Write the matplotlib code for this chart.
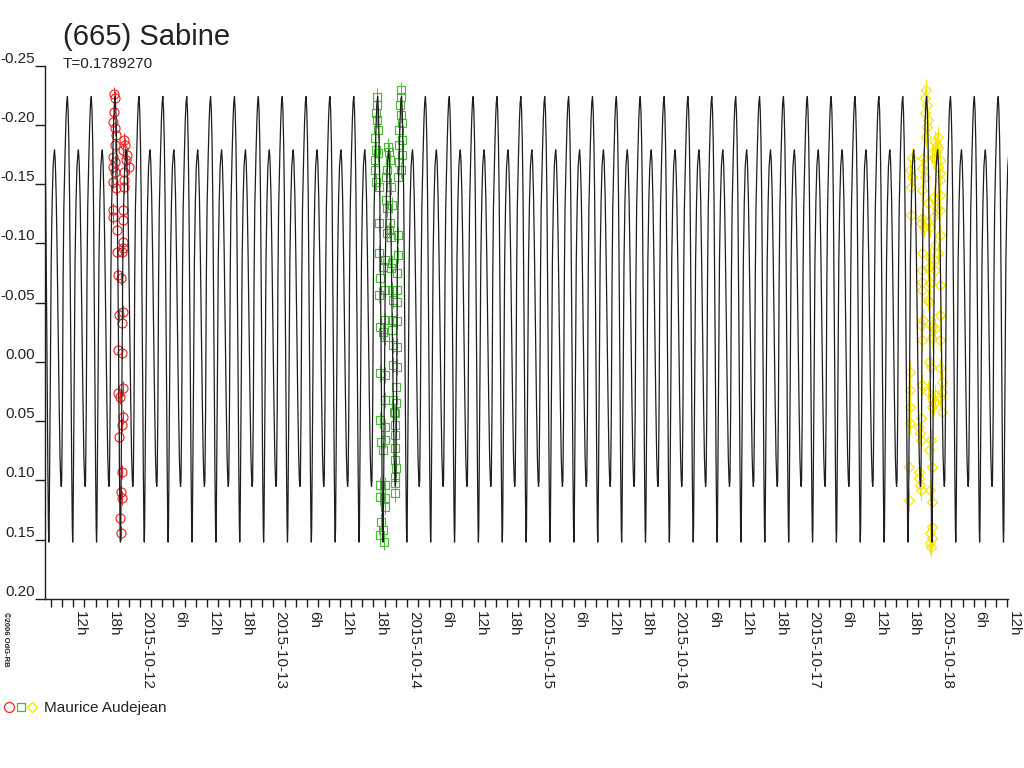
import matplotlib
matplotlib.use("Agg")
import matplotlib.pyplot as plt
import matplotlib.dates as mdates
from matplotlib.lines import Line2D
from matplotlib.legend_handler import HandlerTuple
import numpy as np
import pandas as pd

plt.rcParams['font.family'] = ['Liberation Sans', 'DejaVu Sans']

TITLE = "(665) Sabine"
PERIOD_LABEL = "T=0.1789270"
PERIOD_D = 0.1789270
OBSERVER = "Maurice Audejean"
COPYRIGHT = "\u00a92006 OdG-RB"

EPOCH_MAX = "2015-10-11 23:49"      # time of a primary maximum of the model
X_START = "2015-10-11 06:54"
X_END = "2015-10-18 12:10"

# composite lightcurve shape over one rotation (phase 0 = primary maximum)
PHASE = [0.00, 0.03, 0.06, 0.09, 0.12, 0.15, 0.18, 0.205, 0.22, 0.235, 0.26, 0.29,
         0.32, 0.36, 0.40, 0.44, 0.46, 0.49, 0.53, 0.57, 0.61, 0.65, 0.69, 0.72,
         0.74, 0.76, 0.79, 0.82, 0.85, 0.90, 0.94, 0.97]
SHAPE_MAG = [-0.224, -0.212, -0.185, -0.140, -0.070, 0.010, 0.090, 0.140, 0.152, 0.140, 0.080, 0.000,
             -0.085, -0.135, -0.165, -0.176, -0.179, -0.170, -0.140, -0.090, -0.030, 0.030, 0.080, 0.100,
             0.105, 0.100, 0.040, -0.070, -0.130, -0.175, -0.205, -0.219]

# session 1 (red circles), night of 2015-10-11, UT hours
RED_NIGHT = "2015-10-11"
RED_HOURS = [19.32, 19.50, 19.32, 19.20, 19.50, 19.68, 21.12, 21.30, 19.50, 21.00, 21.60, 19.20,
             19.50, 21.48, 19.20, 22.08, 19.50, 21.12, 19.20, 21.12, 19.68, 21.12, 19.08, 21.00,
             19.08, 21.00, 19.92, 21.00, 21.00, 19.92, 20.70, 20.10, 20.52, 20.88, 20.28, 20.70,
             20.10, 20.70, 20.88, 20.10, 20.40, 20.88, 20.70, 20.28, 20.70, 20.52, 20.70, 20.40, 20.52]
RED_MAGS = [-0.2258, -0.2225, -0.2112, -0.2028, -0.1971, -0.1915, -0.1873, -0.1831, -0.1831, -0.1788,
            -0.1746, -0.1732, -0.1690, -0.1704, -0.1648, -0.1648, -0.1606, -0.1606, -0.1521, -0.1535,
            -0.1465, -0.1479, -0.1282, -0.1282, -0.1226, -0.1198, -0.1113, -0.1015, -0.0959, -0.0930,
            -0.0930, -0.0734, -0.0711, -0.0424, -0.0396, -0.0326, -0.0101, -0.0073, 0.0223, 0.0265,
            0.0293, 0.0462, 0.0532, 0.0631, 0.0926, 0.1095, 0.1151, 0.1320, 0.1446]
RED_ERR = 0.006

# session 2 (green squares), night of 2015-10-13
GREEN_NIGHT = "2015-10-13"
GREEN_HOURS = [18.66, 18.66, 18.48, 18.66, 18.84, 18.36, 18.48, 18.84, 18.36, 18.36, 18.48, 18.96,
               20.64, 20.76, 21.06, 20.46, 20.28, 21.24, 20.28, 20.46, 21.36,
               23.04, 23.04, 22.86, 23.04, 23.16, 22.68, 23.16, 22.68, 23.16, 22.56, 23.04, 22.44,
               19.08, 21.06, 20.88, 20.46, 21.24, 22.44, 19.08, 22.44, 20.16, 21.36, 19.68, 21.24,
               22.26, 19.26, 20.16, 21.36, 19.08, 22.26, 21.48, 22.26, 20.04, 21.36, 22.26, 19.26,
               19.68, 20.04, 21.36, 21.48, 22.26, 21.48, 22.26, 19.26, 20.16, 22.08, 20.04, 21.48,
               22.08, 21.66, 21.96, 19.26, 20.04, 21.96, 19.44, 20.16, 21.96, 19.68, 21.84, 21.96,
               22.08, 21.84, 19.26, 20.04, 21.96, 21.84, 19.26, 20.04, 20.04, 19.44, 19.68, 19.26, 19.86]
GREEN_MAGS = [-0.2238, -0.2168, -0.2098, -0.2041, -0.1957, -0.1887, -0.1788, -0.1760, -0.1704, -0.1620,
              -0.1521, -0.1479,
              -0.1816, -0.1774, -0.1704, -0.1620, -0.1563, -0.1479, -0.1366, -0.1296, -0.1324,
              -0.2295, -0.2238, -0.2168, -0.2084, -0.2013, -0.1957, -0.1873, -0.1830, -0.1746, -0.1690,
              -0.1620, -0.1563,
              -0.1169, -0.1169, -0.1113, -0.1085, -0.1057, -0.1071, -0.0916, -0.0902, -0.0860, -0.0832,
              -0.0804, -0.0790, -0.0747, -0.0705, -0.0607, -0.0607, -0.0565, -0.0607, -0.0522, -0.0508,
              -0.0354, -0.0354, -0.0348, -0.0297, -0.0255, -0.0213, -0.0269, -0.0143, -0.0129, 0.0026,
              0.0040, 0.0096, 0.0110, 0.0209, 0.0321, 0.0321, 0.0350, 0.0420, 0.0434, 0.0490, 0.0547,
              0.0533, 0.0673, 0.0659, 0.0617, 0.0743, 0.0729, 0.0828, 0.0898, 0.0969, 0.1039, 0.1039,
              0.1025, 0.1109, 0.1137, 0.1151, 0.1222, 0.1348, 0.1419, 0.1461, 0.1517]
GREEN_ERR = 0.007

# session 3 (yellow diamonds), night of 2015-10-17
YELLOW_NIGHT = "2015-10-17"
YELLOW_HOURS = [21.36, 21.24, 21.54, 21.24, 21.72, 21.54, 21.36, 23.52, 23.04, 23.34, 23.64, 23.16,
                22.44, 22.92, 23.94, 23.52, 23.94, 23.94, 18.84, 18.54, 18.96, 18.72, 20.94, 20.76,
                21.24, 20.76, 21.72, 22.92, 23.94, 23.34, 22.74, 23.94, 18.72, 20.76, 20.52, 21.12,
                22.14, 23.94, 23.04, 23.64, 22.92, 20.76, 22.14, 20.76, 21.72, 23.04, 20.76, 22.14,
                23.94, 20.64, 21.96, 21.72, 20.94, 20.52, 22.44, 23.04, 23.94, 20.76, 22.56, 23.94,
                21.96, 22.32, 23.94, 18.54, 24.24, 24.24, 20.64, 21.84, 18.54, 23.04, 23.94, 22.92,
                22.56, 24.24, 18.54, 18.54, 20.52, 20.16, 20.34, 20.52, 22.32, 21.96, 18.36, 20.16,
                22.44, 20.16, 20.34, 20.52, 22.14, 22.44, 18.36, 22.44, 22.14, 22.44, 22.14, 22.32]
YELLOW_MAGS = [-0.2295, -0.2224, -0.2168, -0.2098, -0.2041, -0.1985, -0.1901, -0.1901, -0.1859, -0.1830,
               -0.1802, -0.1774, -0.1760, -0.1718, -0.1704, -0.1648, -0.1591, -0.1535, -0.1718, -0.1620,
               -0.1563, -0.1479, -0.1718, -0.1634, -0.1563, -0.1451, -0.1338, -0.1394, -0.1409, -0.1296,
               -0.1226, -0.1282, -0.1240, -0.1212, -0.1169, -0.1141, -0.1141, -0.1071, -0.0987, -0.0916,
               -0.0860, -0.0916, -0.0874, -0.0776, -0.0790, -0.0776, -0.0677, -0.0663, -0.0649, -0.0607,
               -0.0508, -0.0522, -0.0354, -0.0311, -0.0297, -0.0283, -0.0396, -0.0185, -0.0199, -0.0185,
               -0.0002, 0.0040, 0.0054, 0.0082, 0.0167, 0.0251, 0.0195, 0.0251, 0.0237, 0.0279,
               0.0293, 0.0350, 0.0378, 0.0420, 0.0378, 0.0518, 0.0476, 0.0547, 0.0603, 0.0659,
               0.0659, 0.0743, 0.0884, 0.0926, 0.0884, 0.0982, 0.1039, 0.1081, 0.1081, 0.1179,
               0.1165, 0.1390, 0.1447, 0.1489, 0.1531, 0.1559]
YELLOW_ERR = 0.009

YTICKS = [-0.25, -0.20, -0.15, -0.10, -0.05, 0.00, 0.05, 0.10, 0.15, 0.20]
YLABELS = ["-0.25", "-0.20", "-0.15", "-0.10", "-0.05", "0.00", "0.05", "0.10", "0.15", "0.20"]
YLIM = (0.20, -0.25)

RED = "#ee2828"
GREEN = "#4cb83a"
YELLOW = "#f5e400"
INK = "#1e1e1e"

fig = plt.figure(figsize=(10.24, 7.68), dpi=100)
fig.patch.set_facecolor("white")
ax = fig.add_axes([45 / 1024, 1 - 599 / 768, (1008 - 45) / 1024, (599 - 65.7) / 768])

xs = mdates.datestr2num(X_START)
xe = mdates.datestr2num(X_END)
t0 = mdates.datestr2num(EPOCH_MAX)

# model lightcurve: the one-rotation shape repeated every period
ph = np.array(PHASE)
sm = np.array(SHAPE_MAG)
n_lo = int(np.floor((xs - t0) / PERIOD_D)) - 1
n_hi = int(np.ceil((xe - t0) / PERIOD_D)) + 1
model_t = np.concatenate([t0 + (n + ph) * PERIOD_D for n in range(n_lo, n_hi + 1)])
model_m = np.tile(sm, n_hi - n_lo + 1)


def night_times(night, hours):
    return mdates.datestr2num(night) + np.array(hours) / 24.0


ax.errorbar(night_times(RED_NIGHT, RED_HOURS), RED_MAGS, yerr=RED_ERR, fmt='o', ms=6.5,
            mfc='none', mec=RED, mew=0.85, ecolor=RED, elinewidth=0.7, capsize=0, zorder=2)
ax.errorbar(night_times(GREEN_NIGHT, GREEN_HOURS), GREEN_MAGS, yerr=GREEN_ERR, fmt='s', ms=5.2,
            mfc='none', mec=GREEN, mew=0.85, ecolor=GREEN, elinewidth=0.7, capsize=0, zorder=2)
ax.errorbar(night_times(YELLOW_NIGHT, YELLOW_HOURS), YELLOW_MAGS, yerr=YELLOW_ERR, fmt='D', ms=5.0,
            mfc='none', mec=YELLOW, mew=0.85, ecolor=YELLOW, elinewidth=0.7, capsize=0, zorder=2)

ax.plot(model_t, model_m, color=INK, lw=0.9, zorder=3)

ax.set_xlim(xs, xe)
ax.set_ylim(*YLIM)

for s in ("top", "right"):
    ax.spines[s].set_visible(False)
for s in ("left", "bottom"):
    ax.spines[s].set_color(INK)
    ax.spines[s].set_linewidth(1.0)

# y axis
ax.set_yticks(YTICKS, labels=YLABELS)
ax.tick_params(axis='y', direction='out', length=7.2, width=1.0, pad=0, labelsize=11,
               color=INK, labelcolor="#222222")
for t in ax.yaxis.get_major_ticks():
    t.label1.set_verticalalignment('bottom')

# x axis: ticks every two hours, labels every six
tick_times = pd.date_range("2015-10-11 08:00", "2015-10-18 12:00", freq="2h")
tick_labels = []
for tt in tick_times:
    if tt.hour == 0:
        tick_labels.append(tt.strftime("%Y-%m-%d"))
    elif tt.hour in (6, 12, 18):
        tick_labels.append(f"{tt.hour}h")
    else:
        tick_labels.append("")
ax.set_xticks(mdates.date2num(tick_times.to_pydatetime()), labels=tick_labels)
ax.tick_params(axis='x', direction='out', length=5.4, width=1.0, pad=3, labelsize=11,
               color=INK, labelcolor="#222222")
for t in ax.xaxis.get_major_ticks():
    t.label1.set_rotation(-90)
    t.label1.set_horizontalalignment('left')
    t.label1.set_verticalalignment('top')

# texts
fig.text(63 / 1024, 1 - 45 / 768, TITLE, fontsize=21, color="#222222", va='baseline', ha='left')
fig.text(63 / 1024, 1 - 68.5 / 768, PERIOD_LABEL, fontsize=11, color="#222222", va='baseline', ha='left')
fig.text(5 / 1024, 1 - 612 / 768, COPYRIGHT, fontsize=5.5, fontweight='bold', rotation=-90,
         ha='center', va='top', color="#222222")

# legend
h_red = Line2D([], [], ls='none', marker='o', ms=7.2, mfc='none', mec=RED, mew=0.9)
h_green = Line2D([], [], ls='none', marker='s', ms=5.5, mfc='none', mec=GREEN, mew=0.9)
h_yellow = Line2D([], [], ls='none', marker='D', ms=5.6, mfc='none', mec=YELLOW, mew=0.9)
leg = fig.legend([(h_red, h_green, h_yellow)], [OBSERVER],
                 handler_map={tuple: HandlerTuple(ndivide=None, pad=0.0)},
                 loc='center left', bbox_to_anchor=(3 / 1024, 1 - 708 / 768),
                 bbox_transform=fig.transFigure, frameon=False, fontsize=11,
                 handlelength=2.3, handletextpad=0.4, borderpad=0, borderaxespad=0)
for txt in leg.get_texts():
    txt.set_color("#222222")

fig.savefig("out.png", dpi=100, facecolor="white")
